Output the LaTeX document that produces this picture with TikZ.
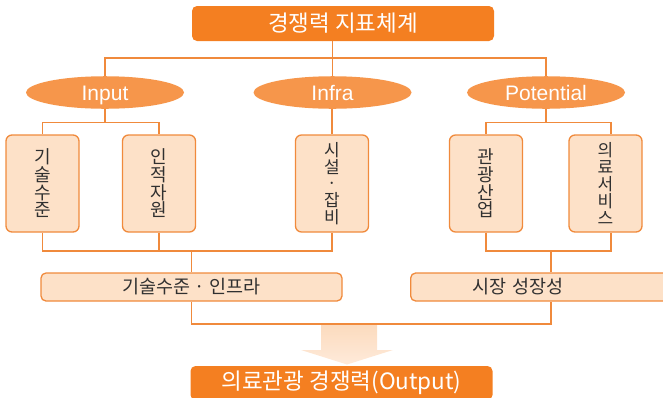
\documentclass[tikz,border=0pt]{standalone}
\usepackage{fontspec}
\setmainfont{Noto Sans CJK KR}
\newfontfamily\latinf{Liberation Sans}
\usetikzlibrary{shapes.geometric}
\definecolor{dorange}{HTML}{F47F21}
\definecolor{eorange}{HTML}{F6964B}
\definecolor{lpeach}{HTML}{FDE1C8}
\definecolor{lineor}{HTML}{F08A3C}
\definecolor{txtgray}{HTML}{303030}
\definecolor{arrtop}{HTML}{FCDBBE}
\definecolor{arrbot}{HTML}{FEEADA}
\tikzset{
  mainbox/.style={fill=dorange, rounded corners=5pt, text=white,
    font=\fontsize{22.5}{25}\selectfont, inner sep=0pt,
    minimum width=302pt, minimum height=35pt},
  ell/.style={ellipse, fill=eorange, text=white,
    font=\latinf\fontsize{21}{24}\selectfont, inner sep=0pt,
    text height=19pt, text depth=4pt,
    minimum width=158pt, minimum height=31pt},
  vbox/.style={draw=lineor, fill=lpeach, line width=1.3pt, rounded corners=6pt,
    minimum width=73pt, minimum height=97pt, text=txtgray, align=center, inner sep=0pt},
  vfour/.style={vbox, font=\fontsize{18}{17.7}\selectfont},
  vfive/.style={vbox, font=\fontsize{17}{16.8}\selectfont},
  hbox/.style={draw=lineor, fill=lpeach, line width=1.3pt, rounded corners=5pt,
    minimum height=28pt, text=txtgray, font=\fontsize{18.5}{20}\selectfont, inner sep=0pt},
  conn/.style={draw=lineor, line width=1.3pt}
}
\begin{document}
\begin{tikzpicture}[x=1pt,y=-1pt]
\useasboundingbox (0,0) rectangle (663,397);
% nodes
\node[mainbox] (top) at (343,23.5) {경쟁력 지표체계};
\node[ell] (input) at (105,92.5) {Input};
\node[ell] (infra) at (332.5,92.5) {Infra};
\node[ell] (pot) at (546,92.5) {Potential};
\node[vfour] (b1) at (42.5,183.5) {기\\술\\수\\준};
\node[vfour] (b2) at (159,183.5) {인\\적\\자\\원};
\node[vfive] (b3) at (332,183.5) {시\\설\\·\\잡\\비};
\node[vfour] (b4) at (486,183.5) {관\\광\\산\\업};
\node[vfive] (b5) at (605.5,183.5) {의\\료\\서\\비\\스};
\node[hbox, minimum width=301pt] (h1) at (191.5,287) {기술수준 · 인프라};
\node[hbox, anchor=west, text width=270pt, align=left] (h2) at (410,287) {\makebox[215pt][c]{시장 성장성}};
\node[mainbox, minimum height=34pt] (out) at (341.5,383) {의료관광 경쟁력(Output)};
% junction levels
\coordinate (j1) at (0,58);
\coordinate (j2) at (0,122.5);
\coordinate (j3) at (0,251);
\coordinate (j4) at (0,324);
\coordinate (r5) at (611,0);
\coordinate (r6) at (551,0);
% arrow
\shade[top color=arrtop, bottom color=arrbot]
  (321,325) -- (377,325) -- (377,350) -- (393,350) -- (347,364.5) -- (301,350) -- (321,350) -- cycle;
% connectors
\draw[conn] (top.south -| infra.north) -- (infra.north);
\draw[conn] (input.north) -- (input.north |- j1) -- (pot.north |- j1) -- (pot.north);
\draw[conn] (input.south) -- (input.south |- j2);
\draw[conn] (b1.north) -- (b1.north |- j2) -- (b2.north |- j2) -- (b2.north);
\draw[conn] (b3.north |- infra.south) -- (b3.north);
\draw[conn] (pot.south) -- (pot.south |- j2);
\draw[conn] (b4.north) -- (b4.north |- j2) -- (r5 |- j2) -- (r5 |- b5.north);
\draw[conn] (b1.south) -- (b1.south |- j3) -- (b3.south |- j3) -- (b3.south);
\draw[conn] (b2.south) -- (b2.south |- j3);
\draw[conn] (h1.north |- j3) -- (h1.north);
\draw[conn] (b4.south) -- (b4.south |- j3) -- (r5 |- j3) -- (r5 |- b5.south);
\draw[conn] (r6 |- j3) -- (r6 |- h2.north);
\draw[conn] (h1.south) -- (h1.south |- j4) -- (r6 |- j4) -- (r6 |- h2.south);
\end{tikzpicture}
\end{document}
